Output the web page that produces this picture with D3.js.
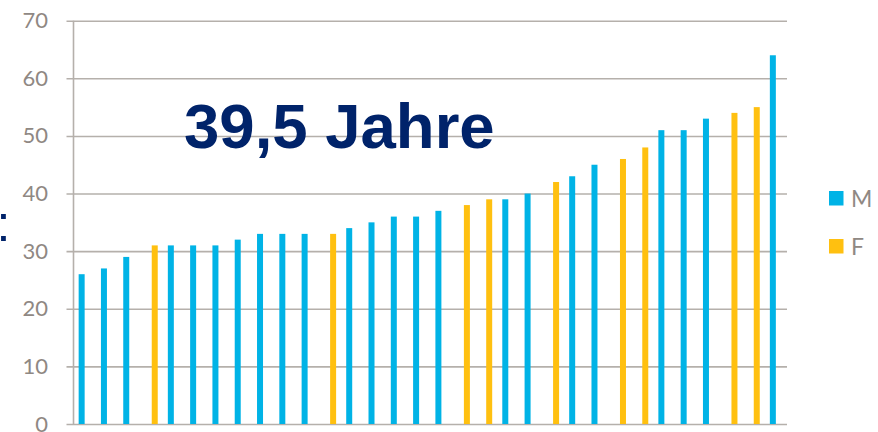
<!DOCTYPE html>
<html>
<head>
<meta charset="utf-8">
<script src="https://cdn.jsdelivr.net/npm/d3@7"></script>
<style>
  html, body { margin: 0; padding: 0; background: #fff; overflow: hidden; }
  svg { display: block; }
</style>
</head>
<body>
<svg id="chart" width="878" height="432"></svg>
<script>
// ---- data ----
const categories = d3.range(1, 33).map(String);
const seriesNames = ["M", "F"];
const valuesM = [26, 27, 29, null, 31, 31, 31, 32, 33, 33, 33, null, 34, 35, 36, 36, 37, null, null, 39, 40, null, 43, 45, null, null, 51, 51, 53, null, null, 64];
const valuesF = [null, null, null, 31, null, null, null, null, null, null, null, 33, null, null, null, null, null, 38, 39, null, null, 42, null, null, 46, 48, null, null, null, 54, 55, null];
const yTicks = [0, 10, 20, 30, 40, 50, 60, 70];
const titleText = "39,5 Jahre";
const colors = { M: "#00B3E6", F: "#FFC010" };

// ---- layout ----
const svg = d3.select("#chart");
const margin = { left: 73.5, right: 91, top: 20.7, bottom: 8 };
const W = 878, H = 432;
const plotW = W - margin.left - margin.right;
const plotH = H - margin.top - margin.bottom;

const x = d3.scaleBand().domain(categories).range([0, plotW]).paddingInner(0).paddingOuter(0);
const xs = d3.scaleBand().domain(seriesNames).range([x.bandwidth() / 2 - 6, x.bandwidth() / 2 + 6.4]);
const y = d3.scaleLinear().domain([0, 70]).range([plotH, 0]);

const g = svg.append("g").attr("transform", `translate(${margin.left},${margin.top})`);

// gridlines + y axis
const yAxis = d3.axisLeft(y).tickValues(yTicks).tickSize(-plotW).tickPadding(25.5).tickFormat(d3.format("d"));
const ga = g.append("g").call(yAxis);
ga.select(".domain").remove();
ga.selectAll(".tick line").attr("stroke", "#b5b0ab").attr("stroke-width", 1.6).attr("x1", -7);
ga.selectAll(".tick text")
  .attr("fill", "#8f8883")
  .style("font-family", "Lato, 'Open Sans', sans-serif")
  .style("font-size", "22px");

// vertical axis line
g.append("line")
  .attr("x1", 0).attr("x2", 0).attr("y1", 0).attr("y2", plotH)
  .attr("stroke", "#b5b0ab").attr("stroke-width", 1.6);

// bars
const rows = categories.map((c, i) => ({ c, M: valuesM[i], F: valuesF[i] }));
seriesNames.forEach(s => {
  g.append("g").selectAll("rect")
    .data(rows.filter(r => r[s] != null))
    .join("rect")
    .attr("x", d => x(d.c) + xs(s))
    .attr("width", 6)
    .attr("y", d => y(d[s]))
    .attr("height", d => y(0) - y(d[s]))
    .attr("fill", colors[s]);
});

// title overlay
svg.append("text")
  .attr("x", 184).attr("y", 148)
  .attr("fill", "#00236A")
  .style("font-family", "'Liberation Sans', Arial, sans-serif")
  .style("font-weight", "bold")
  .style("font-size", "63.5px")
  .text(titleText);

// cut-off colon at left edge
svg.append("text")
  .attr("x", -3.5).attr("y", 241)
  .attr("fill", "#00236A")
  .style("font-family", "'Liberation Sans', Arial, sans-serif")
  .style("font-size", "50px")
  .text(":");

// legend
const legend = svg.append("g").attr("transform", "translate(829,191)");
seriesNames.forEach((s, i) => {
  const lg = legend.append("g").attr("transform", `translate(0,${i * 48})`);
  lg.append("rect").attr("width", 14.5).attr("height", 14.5).attr("fill", colors[s]);
  lg.append("text")
    .attr("x", 22).attr("y", 7.5).attr("dy", "0.36em")
    .attr("fill", "#8f8883")
    .style("font-family", "Lato, 'Open Sans', sans-serif")
    .style("font-size", "23px")
    .text(s);
});
</script>
</body>
</html>
